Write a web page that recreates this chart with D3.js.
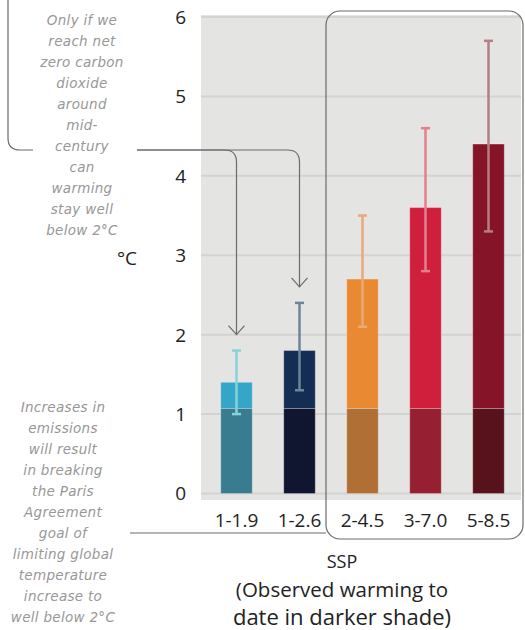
<!DOCTYPE html>
<html lang="en">
<head>
<meta charset="UTF-8"/>
<title>SSP warming</title>
<script src="https://d3js.org/d3.v7.min.js"></script>
<style>
  body { margin: 0; background: white; }
  svg text { font-family: "Open Sans", sans-serif; fill: #222; }
  svg text.note { font-family: "DejaVu Sans", sans-serif; font-style: italic; fill: #979797; font-size: 13.5px; letter-spacing: 0.3px; }
</style>
</head>
<body>
<script>
// scenario data (degrees C)
var scenarios = ["1-1.9", "1-2.6", "2-4.5", "3-7.0", "5-8.5"];
var best = [1.4, 1.8, 2.7, 3.6, 4.4];
var low = [1.0, 1.3, 2.1, 2.8, 3.3];
var high = [1.8, 2.4, 3.5, 4.6, 5.7];
var observed = 1.07;
var yTicks = [0, 1, 2, 3, 4, 5, 6];

var topColors = ["#35a6c7", "#142e53", "#e98a33", "#d01f3c", "#861428"];
var baseColors = ["#3a7c8f", "#10162f", "#b07035", "#962031", "#57121c"];
var whiskerColors = ["#86d2d8", "#6e8599", "#eaa978", "#e2818c", "#b67d85"];

var noteTop = ["Only if we", "reach net", "zero carbon", "dioxide", "around", "mid-",
  "century", "can", "warming", "stay well", "below  2°C"];
var noteBottom = ["Increases in", "emissions", "will result", "in breaking", "the Paris",
  "Agreement", "goal of", "limiting global", "temperature", "increase to",
  "well below 2°C"];

var w = 525, h = 630;

var svg = d3.select("body").append("svg")
  .attr("width", w)
  .attr("height", h);

var x = d3.scaleBand()
  .domain(scenarios)
  .range([205, 520])
  .paddingInner(0.5)
  .paddingOuter(0.25);

var y = d3.scaleLinear()
  .domain([0, 6])
  .range([493.5, 17]);

// grey panel
svg.append("rect")
  .attr("x", 201).attr("y", 15)
  .attr("width", 320).attr("height", 485)
  .attr("fill", "#e4e4e3");

svg.selectAll("line.grid")
  .data(yTicks)
  .enter()
  .append("line")
  .attr("class", "grid")
  .attr("x1", 201).attr("x2", 521)
  .attr("y1", function(d){ return y(d); })
  .attr("y2", function(d){ return y(d); })
  .attr("stroke", "#d3d3d2")
  .attr("stroke-width", 2);

svg.selectAll("text.ytick")
  .data(yTicks)
  .enter()
  .append("text")
  .attr("class", "ytick")
  .attr("x", 186)
  .attr("y", function(d){ return y(d); })
  .attr("dy", "0.36em")
  .attr("text-anchor", "end")
  .style("font-size", "19px")
  .text(function(d){ return d; });

svg.append("text")
  .attr("x", 127).attr("y", 258)
  .attr("dy", "0.36em")
  .attr("text-anchor", "middle")
  .style("font-size", "19px")
  .text("°C");

// bars: projected part then observed part
var bars = svg.selectAll("g.bar")
  .data(scenarios)
  .enter()
  .append("g")
  .attr("class", "bar");

bars.append("rect")
  .attr("x", function(d){ return x(d); })
  .attr("y", function(d, i){ return y(best[i]); })
  .attr("width", x.bandwidth())
  .attr("height", function(d, i){ return y(observed) - y(best[i]); })
  .attr("fill", function(d, i){ return topColors[i]; })
  .attr("stroke", "rgba(255,255,255,0.25)")
  .attr("stroke-width", 1);

bars.append("rect")
  .attr("x", function(d){ return x(d); })
  .attr("y", y(observed))
  .attr("width", x.bandwidth())
  .attr("height", y(0) - y(observed))
  .attr("fill", function(d, i){ return baseColors[i]; })
  .attr("stroke", "rgba(255,255,255,0.25)")
  .attr("stroke-width", 1);

// whiskers
var cx = function(d){ return x(d) + x.bandwidth() / 2; };
bars.append("line")
  .attr("x1", cx).attr("x2", cx)
  .attr("y1", function(d, i){ return y(low[i]); })
  .attr("y2", function(d, i){ return y(high[i]); })
  .attr("stroke", function(d, i){ return whiskerColors[i]; })
  .attr("stroke-width", 2.5);

[low, high].forEach(function(arr){
  bars.append("line")
    .attr("x1", function(d){ return cx(d) - 4.5; })
    .attr("x2", function(d){ return cx(d) + 4.5; })
    .attr("y1", function(d, i){ return y(arr[i]); })
    .attr("y2", function(d, i){ return y(arr[i]); })
    .attr("stroke", function(d, i){ return whiskerColors[i]; })
    .attr("stroke-width", 2.5);
});

svg.selectAll("text.xtick")
  .data(scenarios)
  .enter()
  .append("text")
  .attr("class", "xtick")
  .attr("x", cx)
  .attr("y", 520)
  .attr("dy", "0.36em")
  .attr("text-anchor", "middle")
  .style("font-size", "19px")
  .text(function(d){ return d; });

// axis title
var titles = [["SSP", 562, 18], ["(Observed warming to", 590, 20.5], ["date in darker shade)", 617, 22]];
titles.forEach(function(t){
  svg.append("text")
    .attr("x", 342).attr("y", t[1])
    .attr("dy", "0.36em")
    .attr("text-anchor", "middle")
    .style("font-size", t[2] + "px")
    .text(t[0]);
});

// connectors
var ink = "#6b6b6b";
svg.append("rect")
  .attr("x", 326).attr("y", 11)
  .attr("width", 197).attr("height", 528)
  .attr("rx", 14)
  .attr("fill", "none")
  .attr("stroke", ink)
  .attr("stroke-width", 1.2);

svg.append("path")
  .attr("d", "M8,0 V138 Q8,150 20,150 H33")
  .attr("fill", "none").attr("stroke", ink).attr("stroke-width", 1.2);

var arrowTargets = [[scenarios[0], high[0]], [scenarios[1], high[1]]];
arrowTargets.forEach(function(a){
  var ax = cx(a[0]);
  var ay = y(a[1]) - 16;
  svg.append("path")
    .attr("d", "M137,150 H" + (ax - 12) + " Q" + ax + ",150 " + ax + ",162 V" + ay)
    .attr("fill", "none").attr("stroke", ink).attr("stroke-width", 1.2);
  svg.append("path")
    .attr("d", "M" + (ax - 8) + "," + (ay - 9) + " L" + ax + "," + ay + " L" + (ax + 8) + "," + (ay - 9))
    .attr("fill", "none").attr("stroke", ink).attr("stroke-width", 1.2);
});

svg.append("line")
  .attr("x1", 130).attr("x2", 326)
  .attr("y1", 533).attr("y2", 533)
  .attr("stroke", ink).attr("stroke-width", 1.2);

// notes
svg.selectAll("text.notetop")
  .data(noteTop)
  .enter()
  .append("text")
  .attr("class", "note")
  .attr("x", 82)
  .attr("y", function(d, i){ return 20 + i * 21; })
  .attr("dy", "0.36em")
  .attr("text-anchor", "middle")
  .text(function(d){ return d; });

svg.selectAll("text.notebot")
  .data(noteBottom)
  .enter()
  .append("text")
  .attr("class", "note")
  .attr("x", 63)
  .attr("y", function(d, i){ return 407 + i * 21; })
  .attr("dy", "0.36em")
  .attr("text-anchor", "middle")
  .text(function(d){ return d; });
</script>
</body>
</html>
